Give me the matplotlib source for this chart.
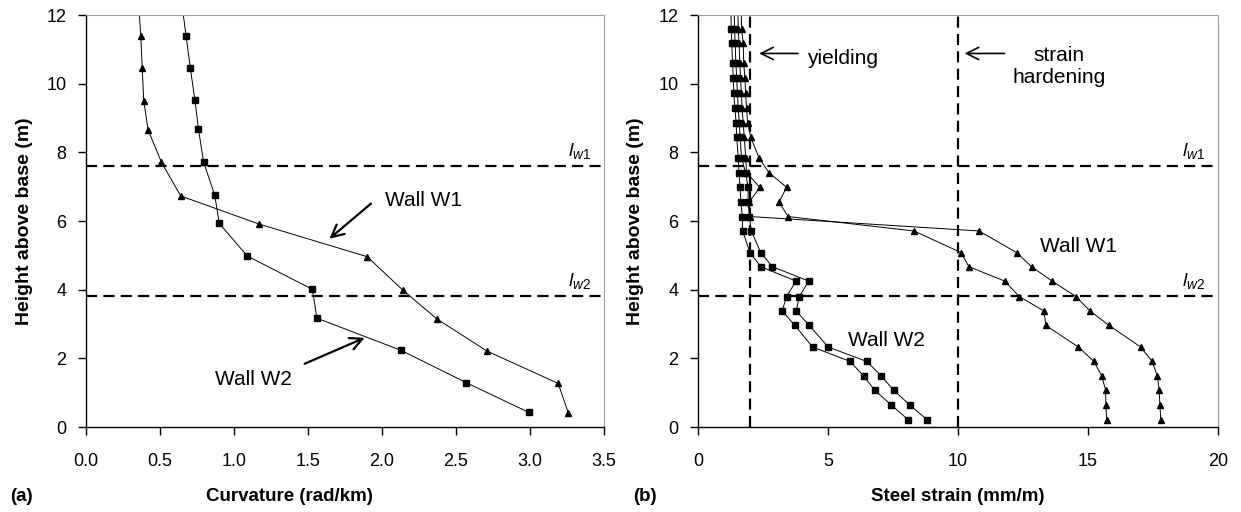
import matplotlib
matplotlib.use('Agg')
import matplotlib.pyplot as plt
from matplotlib.transforms import Bbox

plt.rcParams['font.family'] = ['Liberation Sans', 'DejaVu Sans']
plt.rcParams['mathtext.fontset'] = 'custom'
plt.rcParams['mathtext.it'] = 'Liberation Sans:italic'
plt.rcParams['mathtext.rm'] = 'Liberation Sans'
plt.rcParams['lines.scale_dashes'] = False

# (a) curvature profiles
h_w1 = [0.40, 1.27, 2.21, 3.15, 3.99, 4.96, 5.91, 6.73, 7.71, 8.65, 9.50, 10.45, 11.40, 12.40]
curv_w1 = [3.26, 3.19, 2.71, 2.37, 2.14, 1.90, 1.17, 0.64, 0.51, 0.42, 0.39, 0.38, 0.37, 0.355]
h_w2 = [0.43, 1.29, 2.23, 3.17, 4.01, 4.98, 5.93, 6.75, 7.71, 8.67, 9.52, 10.45, 11.40, 12.40]
curv_w2 = [2.99, 2.57, 2.13, 1.56, 1.53, 1.09, 0.90, 0.87, 0.795, 0.76, 0.736, 0.705, 0.676, 0.645]

# (b) steel strain profiles
h_s = [0.21, 0.64, 1.07, 1.49, 1.91, 2.33, 2.96, 3.38, 3.80, 4.25, 4.67, 5.08, 5.71,
       6.13, 6.55, 6.98, 7.41, 7.83, 8.45, 8.86, 9.28, 9.72, 10.16, 10.59, 11.19, 11.59, 12.3]
strain_w2a = [8.09, 7.44, 6.80, 6.37, 5.85, 4.41, 3.73, 3.24, 3.41, 3.77, 2.42, 2.00, 1.72,
              1.71, 1.65, 1.62, 1.58, 1.55, 1.49, 1.47, 1.42, 1.38, 1.36, 1.33, 1.30, 1.28, 1.26]
strain_w2b = [8.82, 8.15, 7.53, 7.05, 6.49, 5.01, 4.28, 3.78, 3.90, 4.26, 2.86, 2.42, 2.05,
              1.98, 1.93, 1.93, 1.83, 1.68, 1.62, 1.59, 1.55, 1.52, 1.49, 1.46, 1.43, 1.41, 1.39]
strain_w1a = [17.80, 17.77, 17.74, 17.67, 17.47, 17.03, 15.81, 15.08, 14.54, 13.62, 12.83, 12.26, 10.81,
              2.00, 1.97, 2.38, 1.87, 1.84, 1.78, 1.74, 1.70, 1.67, 1.64, 1.61, 1.58, 1.55, 1.53]
strain_w1b = [15.72, 15.69, 15.68, 15.53, 15.23, 14.63, 13.38, 13.31, 12.36, 11.80, 10.42, 10.12, 8.31,
              3.47, 3.12, 3.41, 2.73, 2.35, 2.03, 1.91, 1.87, 1.83, 1.81, 1.76, 1.74, 1.68, 1.66]

lw1, lw2 = 7.61, 3.82
eps_y, eps_sh = 2, 10

fig = plt.figure(figsize=(12.41, 5.12), dpi=100)
ax1 = fig.add_axes([0.0693, 0.166, 0.4174, 0.8047])
ax2 = fig.add_axes([0.5624, 0.166, 0.4190, 0.8047])

line_kw = dict(color='black', lw=0.7)
ax1.plot(curv_w1, h_w1, marker='^', ms=5, markevery=range(len(h_w1) - 1), **line_kw)
ax1.plot(curv_w2, h_w2, marker='s', ms=4, markevery=range(len(h_w2) - 1), **line_kw)

n = len(h_s) - 1
ax2.plot(strain_w2a, h_s, marker='s', ms=4, markevery=range(n), **line_kw)
ax2.plot(strain_w2b, h_s, marker='s', ms=4, markevery=range(n), **line_kw)
ax2.plot(strain_w1a, h_s, marker='^', ms=5, markevery=range(n), **line_kw)
ax2.plot(strain_w1b, h_s, marker='^', ms=5, markevery=range(n), **line_kw)

# wall length and strain limit lines
dash_kw = dict(color='black', lw=1.6, dashes=(8, 4.5))
for ax in (ax1, ax2):
    ax.axhline(lw1, **dash_kw)
    ax.axhline(lw2, **dash_kw)
ax2.axvline(eps_y, **dash_kw)
ax2.axvline(eps_sh, **dash_kw)

ax1.set_xlim(0, 3.5)
ax1.set_xticks([0, 0.5, 1.0, 1.5, 2.0, 2.5, 3.0, 3.5])
ax1.set_xticklabels(['0.0', '0.5', '1.0', '1.5', '2.0', '2.5', '3.0', '3.5'])
ax2.set_xlim(0, 20)
ax2.set_xticks([0, 5, 10, 15, 20])

for ax in (ax1, ax2):
    ax.set_ylim(0, 12)
    ax.set_yticks(range(0, 13, 2))
    ax.tick_params(direction='out', length=6, width=1, labelsize=13)
    ax.tick_params(axis='x', pad=13)
    ax.tick_params(axis='y', pad=8)
    for s in ('top', 'right'):
        ax.spines[s].set_color('#a0a0a0')
    for s in ('left', 'bottom'):
        ax.spines[s].set_linewidth(1)
    ax.set_ylabel('Height above base (m)', fontsize=14, fontweight='bold', labelpad=10)
    xr = ax.get_xlim()[1]
    ax.text(xr * 0.975, lw1 + 0.15, r'$l_{w1}$', ha='right', va='bottom', fontsize=14)
    ax.text(xr * 0.975, lw2 + 0.15, r'$l_{w2}$', ha='right', va='bottom', fontsize=14)

arr = dict(arrowstyle='->', lw=1.6, color='black', mutation_scale=22)
ax1.annotate('', xy=(1.63, 5.43), xytext=(1.94, 6.56), arrowprops=arr)
ax1.text(2.02, 6.59, 'Wall W1', fontsize=15, va='center')
ax1.annotate('', xy=(1.90, 2.63), xytext=(1.46, 1.81), arrowprops=arr)
ax1.text(0.87, 1.37, 'Wall W2', fontsize=15, va='center')

arr2 = dict(arrowstyle='->', lw=1.2, color='black', mutation_scale=22)
ax2.annotate('', xy=(2.25, 10.88), xytext=(3.95, 10.88), arrowprops=arr2)
t1 = ax2.text(4.2, 10.74, 'yielding', fontsize=15, va='center')
ax2.annotate('', xy=(10.15, 10.88), xytext=(11.9, 10.88), arrowprops=arr2)
t2 = ax2.text(13.9, 10.5, 'strain\nhardening', fontsize=15, ha='center', va='center',
              linespacing=1.25)
# the text boxes cut off the descenders in the original
t1.set_clip_box(Bbox.from_extents(0, 512 - 61, 1241, 512))
t2.set_clip_box(Bbox.from_extents(0, 512 - 82, 1241, 512))
ax2.text(13.15, 5.25, 'Wall W1', fontsize=15, va='center')
ax2.text(5.76, 2.51, 'Wall W2', fontsize=15, va='center')

fig.text(0.0085, 0.0293, '(a)', fontsize=13.5, fontweight='bold', va='center')
fig.text(0.2335, 0.0293, 'Curvature (rad/km)', fontsize=13.5, fontweight='bold', va='center', ha='center')
fig.text(0.5105, 0.0293, '(b)', fontsize=13.5, fontweight='bold', va='center')
fig.text(0.772, 0.0293, 'Steel strain (mm/m)', fontsize=13.5, fontweight='bold', ha='center', va='center')

fig.savefig('out.png', dpi=100)
